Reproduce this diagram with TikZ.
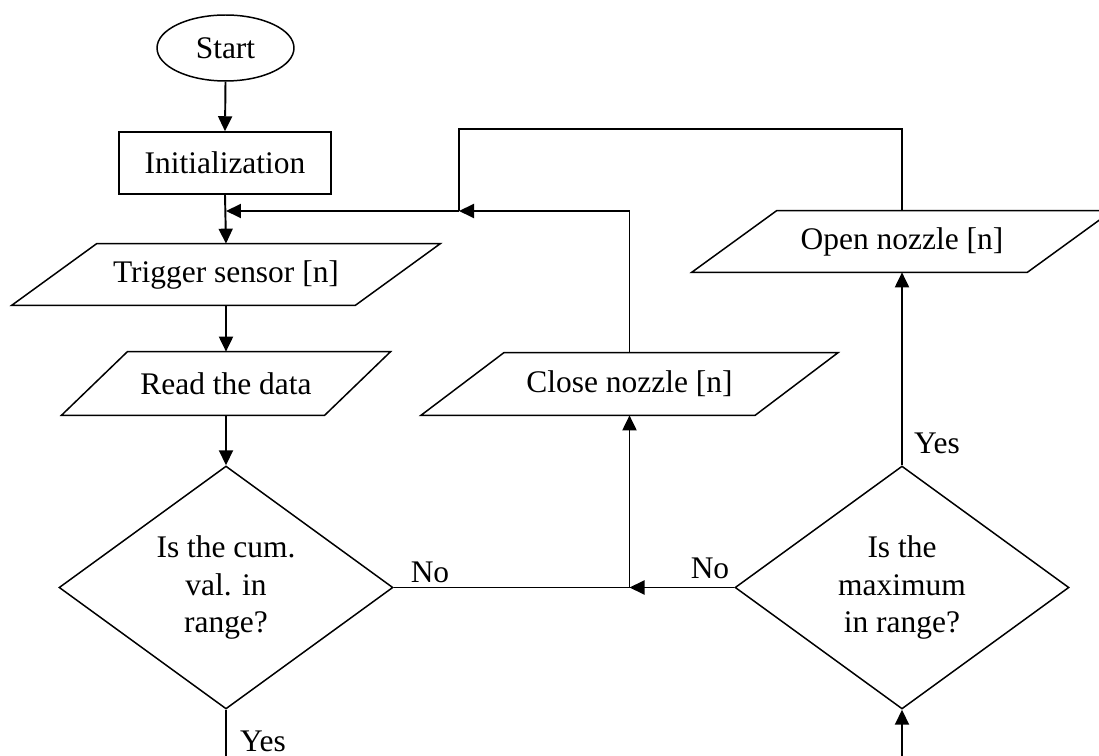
\documentclass[tikz,border=0pt]{standalone}
\usepackage{fontspec}
\setmainfont{Liberation Serif}
\usetikzlibrary{shapes.geometric,arrows.meta}
\newcommand{\iodraw}[2]{\draw[shapeline] ([xshift=-#2]#1.south west) -- ([xshift=-#2]#1.south east) -- ([xshift=#2]#1.north east) -- ([xshift=#2]#1.north west) -- cycle;}
\begin{document}
\begin{tikzpicture}[x=0.02cm,y=-0.02cm,
  font=\fontsize{17.9}{21.3}\selectfont,
  shapeline/.style={draw=black, line width=0.85pt},
  conn/.style={draw=black, line width=1.1pt},
  arr/.style={conn, -{Triangle[length=0.3cm,width=0.28cm]}},
  io/.style={rectangle, inner sep=0pt},
  decision/.style={diamond, shapeline, shape aspect=1.374, minimum width=6.68cm, minimum height=4.86cm, inner sep=0pt, align=center}]
\clip (0,0) rectangle (1099,756);
\fill[white] (0,0) rectangle (1099,756);

% nodes
\node[ellipse, shapeline, minimum width=2.74cm, minimum height=1.32cm, inner sep=0pt] (start) at (225.5,48) {Start};
\node[rectangle, shapeline, minimum width=4.24cm, minimum height=1.24cm, inner sep=0pt] (init) at (225,163) {Initialization};
\node[io, minimum width=6.86cm, minimum height=1.22cm] (trig) at (226,274.5) {Trigger sensor [n]};
\iodraw{trig}{0.85cm}
\node[io, minimum width=5.25cm, minimum height=1.26cm] (read) at (226,383.5) {Read the data};
\iodraw{read}{0.66cm}
\node[io, minimum width=6.67cm, minimum height=1.24cm] (close) at (629.5,384) {Close nozzle [n]};
\iodraw{close}{0.83cm}
\node[io, minimum width=6.7cm, minimum height=1.22cm] (open) at (902,241.5) {Open nozzle [n]};
\iodraw{open}{0.85cm}
\node[decision] (d1) at (226,587.5) {Is the cum.\\val. in\\range?};
\node[decision] (d2) at (902,587.5) {Is the\\maximum\\in range?};

% labels
\node (no1) at (430,572) {No};
\node (no2) at (710,568) {No};
\node (yes1) at (263,741) {Yes};
\node (yes2) at (937,443) {Yes};

% helper coordinates
\coordinate (topL) at (459,129);
\coordinate (mergeA) at (459,211);
\coordinate (mergeB) at (226,211);
\coordinate (mergeC) at (close.south |- d1.east);
\coordinate (d1out) at (226,756);
\coordinate (d2in) at (902,756);

% connectors
\draw[arr] (start.south) -- (init.north);
\draw[arr] (init.south) -- (trig.north);
\draw[arr] (trig.south) -- (read.north);
\draw[arr] (read.south) -- (d1.north);
\draw[conn] (d1.south) -- (d1out);
\draw[conn] (d1.east) -- (mergeC);
\draw[arr] (mergeC) -- (close.south);
\draw[arr] (d2.west) -- (mergeC);
\draw[arr] (d2in) -- (d2.south);
\draw[arr] (d2.north) -- (open.south);
\draw[conn] (open.north) |- (topL) -- (mergeA);
\draw[arr] (close.north) |- (mergeA);
\draw[arr] (mergeA) -- (mergeB);
\end{tikzpicture}
\end{document}
